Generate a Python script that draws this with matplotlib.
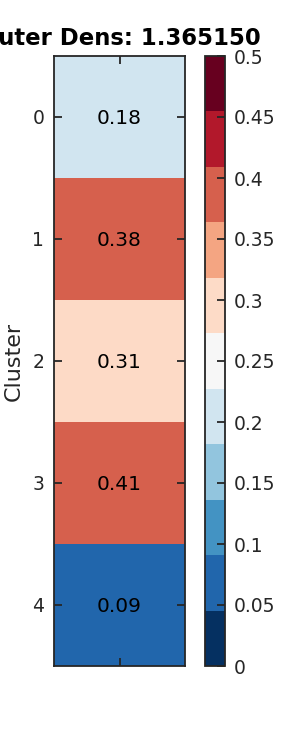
import numpy as np
import matplotlib
matplotlib.use("Agg")
import matplotlib.pyplot as plt
from matplotlib.ticker import FuncFormatter

clusters = ["0", "1", "2", "3", "4"]
values = [0.183, 0.38, 0.31, 0.407, 0.088]
cbar_ticks = [0, 0.05, 0.1, 0.15, 0.2, 0.25, 0.3, 0.35, 0.4, 0.45, 0.5]
title = "Outer Dens: 1.365150"
ylabel = "Cluster"

dark = "#262626"
plt.rcParams["font.family"] = ["DejaVu Sans"]

fig = plt.figure(figsize=(3.0, 7.5), dpi=100)
ax = fig.add_axes([54/300, 1 - 666/750, 131/300, 610/750])
cax = fig.add_axes([205/300, 1 - 666/750, 20/300, 610/750])

cmap = plt.get_cmap("RdBu_r", 11)
data = np.array(values).reshape(-1, 1)
im = ax.imshow(data, cmap=cmap, vmin=0, vmax=0.5, aspect="auto",
               interpolation="nearest")

for i, v in enumerate(values):
    ax.text(0, i + 0.01, f"{v:.2f}", ha="center", va="center", fontsize=14.5,
            color="black")

ax.set_yticks(range(len(clusters)))
ax.set_yticklabels(clusters)
ax.set_xticks([0])
ax.set_xticklabels([""])
ax.tick_params(axis="both", direction="in", length=6, width=1.3, color=dark,
               labelcolor=dark, labelsize=13.5, pad=7,
               left=True, right=True, top=True, bottom=True)
for s in ax.spines.values():
    s.set_color(dark)
    s.set_linewidth(1.3)
ax.set_ylabel(ylabel, fontsize=16, color=dark, labelpad=6)
ax.set_title(title, fontsize=16.4, fontweight="bold", pad=8, color="black")

cb = fig.colorbar(im, cax=cax, ticks=cbar_ticks)
cb.ax.yaxis.set_major_formatter(FuncFormatter(lambda x, p: f"{x:g}"))
cb.ax.tick_params(direction="in", length=6, width=1.3, color=dark,
                  labelcolor=dark, labelsize=13.5, pad=6)
cb.outline.set_edgecolor(dark)
cb.outline.set_linewidth(1.3)

fig.savefig("out.png", dpi=100)
